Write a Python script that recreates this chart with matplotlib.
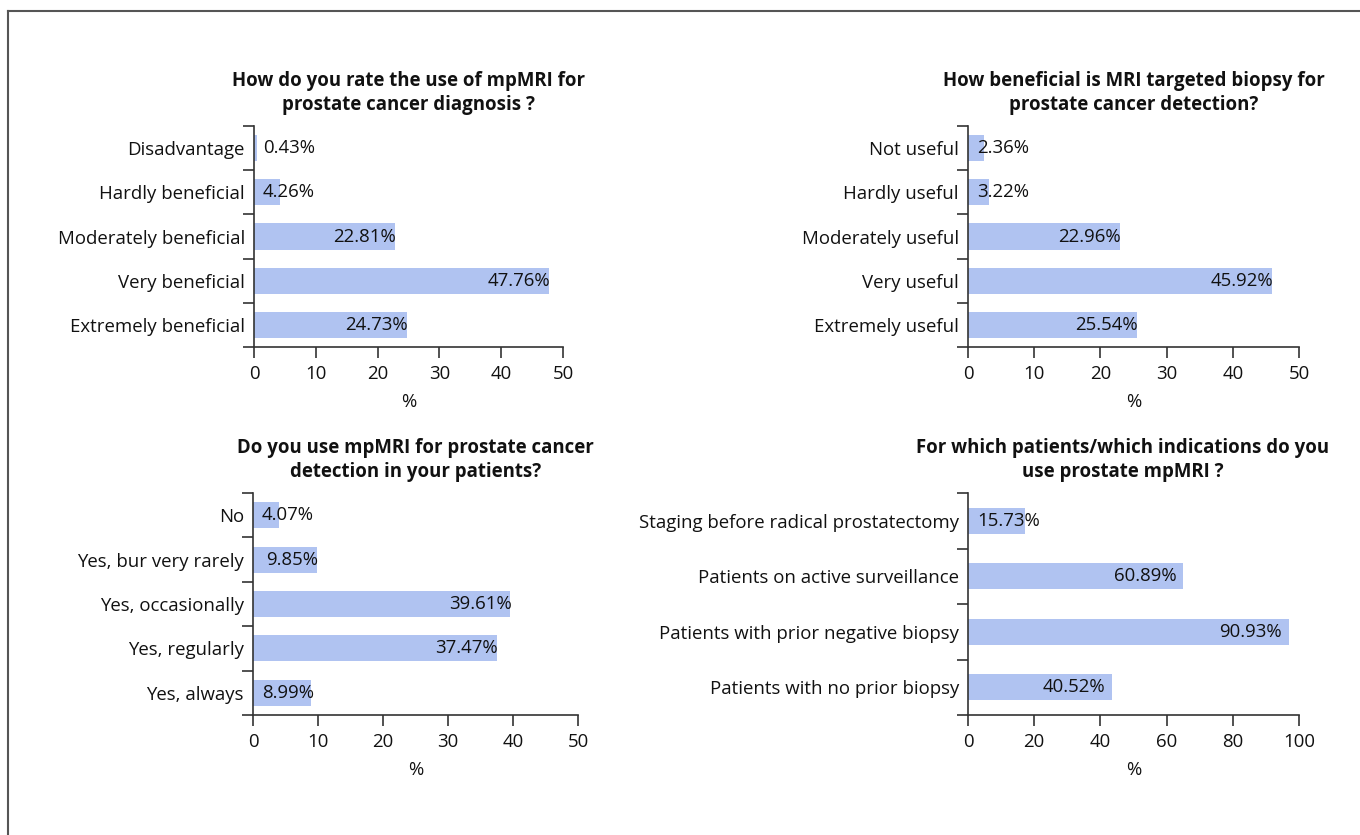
import matplotlib.pyplot as plt
from matplotlib.lines import Line2D

plt.rcParams['font.family'] = ['Open Sans', 'DejaVu Sans']
fs = 13.4

title_1 = 'How do you rate the use of mpMRI for\nprostate cancer diagnosis ?'
cats_1 = ['Disadvantage', 'Hardly beneficial', 'Moderately beneficial', 'Very beneficial', 'Extremely beneficial']
vals_1 = [0.43, 4.26, 22.81, 47.76, 24.73]
labels_1 = ['0.43%', '4.26%', '22.81%', '47.76%', '24.73%']

title_2 = 'How beneficial is MRI targeted biopsy for\nprostate cancer detection?'
cats_2 = ['Not useful', 'Hardly useful', 'Moderately useful', 'Very useful', 'Extremely useful']
vals_2 = [2.36, 3.22, 22.96, 45.92, 25.54]
labels_2 = ['2.36%', '3.22%', '22.96%', '45.92%', '25.54%']

title_3 = 'Do you use mpMRI for prostate cancer\ndetection in your patients?'
cats_3 = ['No', 'Yes, bur very rarely', 'Yes, occasionally', 'Yes, regularly', 'Yes, always']
vals_3 = [4.07, 9.85, 39.61, 37.47, 8.99]
labels_3 = ['4.07%', '9.85%', '39.61%', '37.47%', '8.99%']

title_4 = 'For which patients/which indications do you\nuse prostate mpMRI ?'
cats_4 = ['Staging before radical prostatectomy', 'Patients on active surveillance',
          'Patients with prior negative biopsy', 'Patients with no prior biopsy']
# bar lengths as drawn in the picture (they run a bit longer than the printed %)
vals_4 = [17.3, 65.1, 96.9, 43.6]
labels_4 = ['15.73%', '60.89%', '90.93%', '40.52%']

xmax = [50, 50, 50, 100]
xstep = [10, 10, 10, 20]

W, H = 1360, 835
fig = plt.figure(figsize=(W / 100, H / 100), dpi=100)

# axes boxes in pixels: left, right, top, bottom
boxes = [(254, 563, 126, 347), (968, 1299, 126, 347),
         (253, 578, 493, 715), (968, 1299, 493, 715)]
bar_h = [0.59, 0.59, 0.59, 0.47]
lab_off = [1, 1, 1, -7]
title_x = [0.5, 0.5, 0.5, 0.468]

panels = [(title_1, cats_1, vals_1, labels_1), (title_2, cats_2, vals_2, labels_2),
          (title_3, cats_3, vals_3, labels_3), (title_4, cats_4, vals_4, labels_4)]

bar_col = '#b0c3f1'
ink = '#111111'
spine_col = '#333333'

for k, (title, cats, vals, labels) in enumerate(panels):
    l, r, t, b = boxes[k]
    ax = fig.add_axes([l / W, 1 - b / H, (r - l) / W, (b - t) / H])
    n = len(cats)
    ypos = list(range(n))
    ax.barh(ypos, vals, height=bar_h[k], color=bar_col)
    ax.set_xlim(0, xmax[k])
    ax.set_ylim(n - 0.5, -0.5)
    ax.set_yticks(ypos)
    ax.set_yticklabels(cats)
    ax.set_yticks([i - 0.5 for i in range(n + 1)], minor=True)
    ax.tick_params(axis='y', which='major', length=0, pad=6.5, colors=ink, labelsize=fs)
    ax.tick_params(axis='y', which='minor', length=8, width=1.2, color=spine_col, direction='out')
    ax.set_xticks(range(0, xmax[k] + 1, xstep[k]))
    ax.tick_params(axis='x', length=8, width=1.2, colors=ink, labelsize=fs, pad=5)
    ax.tick_params(axis='x', color=spine_col)
    for s in ['top', 'right']:
        ax.spines[s].set_visible(False)
    for s in ['left', 'bottom']:
        ax.spines[s].set_color(spine_col)
        ax.spines[s].set_linewidth(1.2)
    ax.set_xlabel('%', color=ink, fontsize=fs, labelpad=7)
    ax.text(title_x[k], 1.0 + 33 / (b - t), title, transform=ax.transAxes, ha='center', va='center',
            fontsize=fs, fontweight='bold', color=ink, linespacing=1.3)

    px_per_unit = (r - l) / xmax[k]
    for i, v in enumerate(vals):
        if v * px_per_unit < 61:
            ax.annotate(labels[i], xy=(0, i), xytext=(6.5, 0), textcoords='offset points',
                        ha='left', va='center', color=ink, fontsize=fs)
        else:
            ax.annotate(labels[i], xy=(v, i), xytext=(lab_off[k] * 0.72, 0), textcoords='offset points',
                        ha='right', va='center', color=ink, fontsize=fs)

# frame lines at top and left of the picture
fig.add_artist(Line2D([8 / W, 8 / W], [0, 1 - 11 / H], color='#555555', lw=1.5))
fig.add_artist(Line2D([8 / W, 1], [1 - 11 / H, 1 - 11 / H], color='#555555', lw=1.5))

plt.savefig('out.png', dpi=100)
